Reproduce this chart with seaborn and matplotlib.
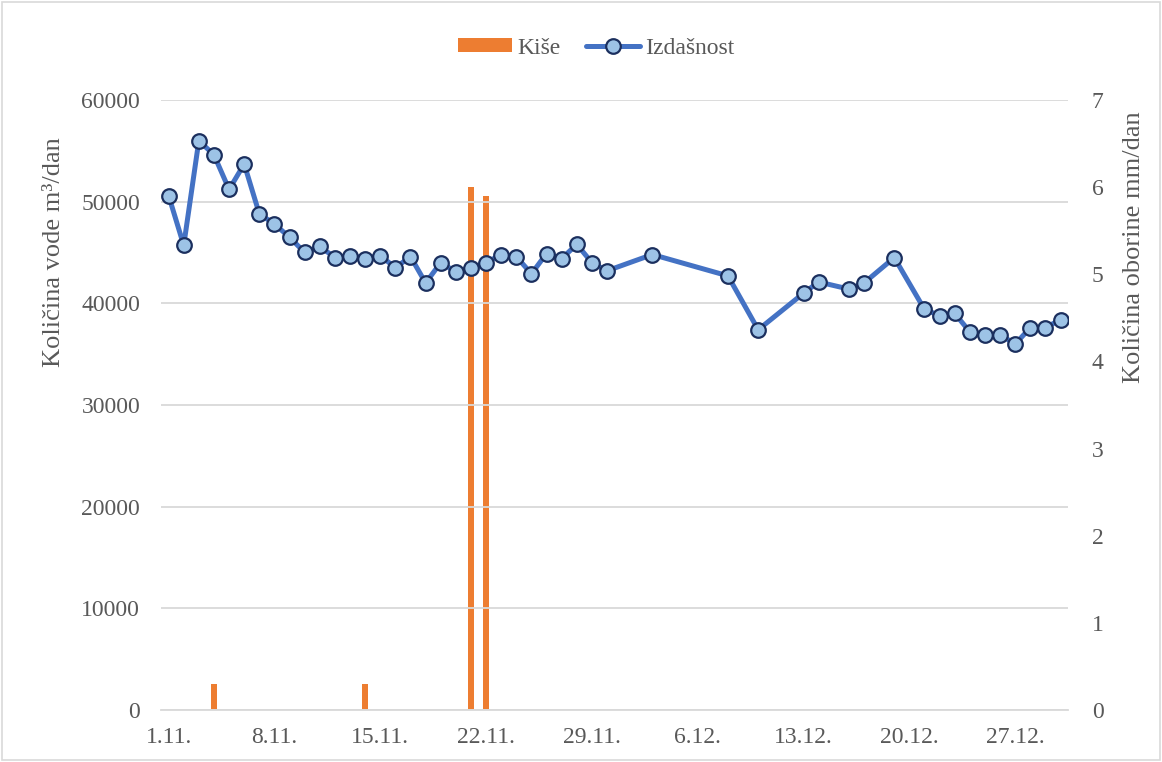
import pandas as pd
import numpy as np
import matplotlib
matplotlib.use("Agg")
import matplotlib.pyplot as plt
import seaborn as sns
from matplotlib.patches import Patch, Rectangle
from matplotlib.lines import Line2D

# ---- data ----
start_date = "2023-11-01"
flow_dates = (
    [f"2023-11-{d:02d}" for d in range(1, 31)]
    + ["2023-12-03", "2023-12-08", "2023-12-10", "2023-12-13", "2023-12-14",
       "2023-12-16", "2023-12-17", "2023-12-19", "2023-12-21", "2023-12-22",
       "2023-12-23", "2023-12-24", "2023-12-25", "2023-12-26", "2023-12-27",
       "2023-12-28", "2023-12-29", "2023-12-30"]
)
flow_values = [
    50600, 45700, 56000, 54600, 51200, 53700, 48800, 47800, 46500, 45000,
    45600, 44500, 44700, 44400, 44700, 43500, 44600, 42000, 44000, 43100,
    43500, 44000, 44800, 44600, 42900, 44900, 44400, 45800, 44000, 43200,
    44800, 42700, 37400, 41000, 42100, 41400, 42000, 44500, 39400, 38800,
    39000, 37200, 36900, 36900, 36000, 37600, 37600, 38400,
]
rain_dates = ["2023-11-04", "2023-11-14", "2023-11-21", "2023-11-22"]
rain_values = [0.3, 0.3, 6.0, 5.9]
tick_labels = ["1.11.", "8.11.", "15.11.", "22.11.", "29.11.",
               "6.12.", "13.12.", "20.12.", "27.12."]
n_days = 60

t0 = pd.Timestamp(start_date)
flow = pd.DataFrame({"day": [(pd.Timestamp(d) - t0).days for d in flow_dates],
                     "value": flow_values})
rain = pd.DataFrame({"day": [(pd.Timestamp(d) - t0).days for d in rain_dates],
                     "rain": rain_values})

# ---- style ----
sns.set_theme(style="white")
plt.rcParams["font.family"] = ["Liberation Serif", "DejaVu Serif"]
txt = "#595959"
grid_c = "#D9D9D9"
fs_tick = 17
fs_label = 19

fig = plt.figure(figsize=(11.62, 7.62), dpi=100)
ax = fig.add_axes([0.1386, 0.0682, 0.7806, 0.8006])
ax2 = ax.twinx()

# bars on secondary axis, drawn behind the line
sns.barplot(data=rain, x="day", y="rain", native_scale=True, color="#ED7D31",
            saturation=1, width=0.4, errorbar=None, ax=ax2, zorder=1)
for p in ax2.patches:
    p.set_edgecolor("none")

line_kw = dict(color="#4472C4", linewidth=3.6, marker="o", markersize=10.5,
               markerfacecolor="#9DC3E6", markeredgecolor="#1B2F5E",
               markeredgewidth=1.6)
sns.lineplot(data=flow, x="day", y="value", ax=ax, zorder=3, **line_kw)

ax.set_zorder(ax2.get_zorder() + 1)
ax.patch.set_visible(False)

# axes ranges
for a in (ax, ax2):
    a.set_xlim(-0.5, n_days - 0.5)
ax.set_ylim(0, 60000)
ax2.set_ylim(0, 7)

# y ticks / grid
ax.set_yticks(np.arange(0, 60001, 10000))
ax.yaxis.grid(True, color=grid_c, linewidth=1.3)
ax.set_axisbelow(True)
ax2.set_yticks(np.arange(0, 8, 1))
ax2.grid(False)

# x ticks: labels at weekly day centres, tick marks at weekly boundaries
major = np.arange(0, 57, 7)
ax.set_xticks(major)
ax.set_xticklabels(tick_labels)
ax.set_xticks(major - 0.5, minor=True)
ax.tick_params(axis="x", which="major", length=0, pad=12, labelsize=fs_tick, labelcolor=txt)
ax.tick_params(axis="x", which="minor", length=6, width=1.3, color=grid_c, direction="out")
ax.tick_params(axis="y", length=0, pad=15, labelsize=fs_tick, labelcolor=txt)
ax2.tick_params(axis="y", length=0, pad=17, labelsize=fs_tick, labelcolor=txt)
ax2.tick_params(axis="x", which="both", length=0, labelbottom=False)

for a in (ax, ax2):
    for s in ("top", "left", "right", "bottom"):
        a.spines[s].set_visible(False)
ax.spines["bottom"].set_visible(True)
ax.spines["bottom"].set_color(grid_c)
ax.spines["bottom"].set_linewidth(1.3)

ax.set_xlabel("")
ax.set_ylabel("Količina vode m³/dan", fontsize=fs_label, color=txt)
ax2.set_ylabel("Količina oborine mm/dan", fontsize=fs_label, color=txt)
ax.yaxis.set_label_coords(-0.106, 0.751)
ax2.yaxis.set_label_coords(1.061, 0.759)

# legend
handles = [
    Patch(facecolor="#ED7D31", edgecolor="none"),
    Line2D([0], [0], **line_kw),
]
fig.legend(handles, ["Kiše", "Izdašnost"], loc="center", bbox_to_anchor=(0.513, 0.937),
           ncol=2, frameon=False, fontsize=fs_tick, labelcolor=txt,
           handlelength=2.3, handleheight=0.5, handletextpad=0.2, columnspacing=1.1)

# chart border
fig.patches.append(Rectangle((0.002, 0.002), 0.996, 0.996, transform=fig.transFigure,
                             fill=False, edgecolor="#D9D9D9", linewidth=1.2))

fig.savefig("out.png", dpi=100)
